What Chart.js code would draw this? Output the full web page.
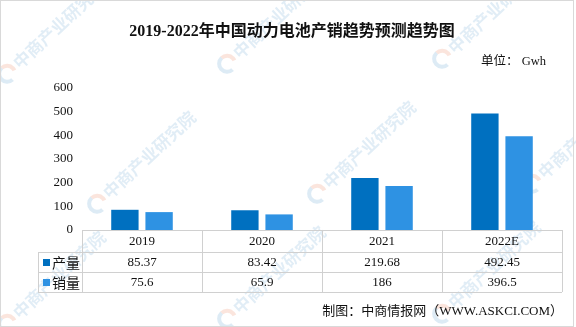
<!DOCTYPE html>
<html><head><meta charset="utf-8">
<script src="https://cdn.jsdelivr.net/npm/chart.js@4/dist/chart.umd.min.js"></script>
<style>html,body{margin:0;padding:0;background:#fff}#wrap{width:576px;height:327px;position:relative}</style>
</head><body><div id="wrap"><canvas id="c" width="576" height="327"></canvas></div>
<script>
const categories = ['2019', '2020', '2021', '2022E'];
const production = [85.37, 83.42, 219.68, 492.45];
const sales = [75.6, 65.9, 186, 396.5];
const productionLabels = ['85.37', '83.42', '219.68', '492.45'];
const salesLabels = ['75.6', '65.9', '186', '396.5'];
const yTicks = [0, 100, 200, 300, 400, 500, 600];
const seriesNames = ['产量', '销量'];
const colors = ['#0070c0', '#2e92e3'];

const FONT = '"Liberation Serif", "Noto Sans CJK SC", serif';

const tablePlugin = {
  id: 'tablePlugin',
  beforeDraw(chart) {
    const ctx = chart.ctx;
    ctx.save();
    ctx.fillStyle = '#fff';
    ctx.fillRect(0, 0, chart.width, chart.height);
    // watermark
    ctx.font = 'bold 17px "Noto Sans CJK SC"';
    const spots = [[20,70],[240,60],[455,55],[110,200],[330,190],[545,180],[20,320],[240,315],[455,310]];
    spots.forEach(([x, y]) => {
      ctx.save();
      ctx.translate(x, y);
      ctx.rotate(-Math.PI / 4.2);
      ctx.fillStyle = 'rgba(120,175,215,0.22)';
      ctx.fillText('中商产业研究院', 0, 0);
      ctx.beginPath();
      ctx.arc(-12, -6, 8, Math.PI * 0.5, Math.PI * 1.5);
      ctx.lineWidth = 4;
      ctx.strokeStyle = 'rgba(120,175,215,0.25)';
      ctx.stroke();
      ctx.beginPath();
      ctx.arc(-12, -6, 8, -Math.PI * 0.5, Math.PI * 0.1);
      ctx.strokeStyle = 'rgba(240,150,120,0.25)';
      ctx.stroke();
      ctx.restore();
    });
    ctx.restore();
  },
  afterDraw(chart) {
    const ctx = chart.ctx;
    const xs = chart.scales.x;
    const area = chart.chartArea;
    const left = area.left, right = area.right;
    const top = area.bottom;
    const r1 = top + 22, r2 = r1 + 20, r3 = r2 + 20;
    const legL = 38;
    const n = categories.length;
    const w = (right - left) / n;
    ctx.save();
    ctx.strokeStyle = '#d0d0d0';
    ctx.lineWidth = 1;
    ctx.beginPath();
    ctx.moveTo(left, top + 0.5); ctx.lineTo(right, top + 0.5);
    [r1, r2, r3].forEach(y => { ctx.moveTo(legL, y + 0.5); ctx.lineTo(right, y + 0.5); });
    for (let i = 0; i <= n; i++) {
      const x = Math.round(left + i * w) + 0.5;
      ctx.moveTo(x, top); ctx.lineTo(x, r3);
    }
    ctx.moveTo(legL + 0.5, r1); ctx.lineTo(legL + 0.5, r3);
    ctx.stroke();

    ctx.fillStyle = '#111';
    ctx.font = '13px ' + FONT;
    ctx.textAlign = 'center';
    ctx.textBaseline = 'middle';
    categories.forEach((c, i) => {
      const x = xs.getPixelForValue(i);
      ctx.fillText(c, x, (top + r1) / 2 + 1);
      ctx.fillText(productionLabels[i], x, (r1 + r2) / 2 + 1);
      ctx.fillText(salesLabels[i], x, (r2 + r3) / 2 + 1);
    });
    // legend cells
    [[r1, r2], [r2, r3]].forEach(([a, b], k) => {
      const cy = (a + b) / 2;
      ctx.fillStyle = colors[k];
      ctx.fillRect(legL + 5, cy - 3, 7, 7);
      ctx.fillStyle = '#111';
      ctx.textAlign = 'left';
      ctx.font = '14px "Noto Sans CJK SC"';
      ctx.fillText(seriesNames[k], legL + 14, cy + 1);
    });

    // title, unit, source
    ctx.textAlign = 'center';
    ctx.font = 'bold 16px ' + FONT;
    ctx.fillText('2019-2022年中国动力电池产销趋势预测趋势图', 292, 32);
    ctx.textAlign = 'left';
    ctx.font = '12.5px ' + FONT;
    ctx.fillText('单位： Gwh', 481, 62);
    ctx.textAlign = 'right';
    ctx.font = '13px ' + FONT;
    ctx.fillText('制图：中商情报网（WWW.ASKCI.COM）', 563, 312);

    // frame
    ctx.strokeStyle = '#d9d9d9';
    ctx.strokeRect(0.5, 0.5, chart.width - 3, chart.height - 1);
    ctx.restore();
  }
};

new Chart(document.getElementById('c'), {
  type: 'bar',
  data: {
    labels: categories,
    datasets: [
      { label: seriesNames[0], data: production, backgroundColor: colors[0], categoryPercentage: 0.57, barPercentage: 0.8 },
      { label: seriesNames[1], data: sales, backgroundColor: colors[1], categoryPercentage: 0.57, barPercentage: 0.8 }
    ]
  },
  options: {
    responsive: false,
    animation: false,
    layout: { padding: { top: 88, bottom: 97, right: 14, left: 0 } },
    plugins: { legend: { display: false }, title: { display: false }, tooltip: { enabled: false } },
    scales: {
      x: { display: false },
      y: {
        min: 0, max: 600,
        afterBuildTicks(s) { s.ticks = yTicks.map(v => ({ value: v })); },
        afterFit(s) { s.width = 82; },
        grid: { display: false, drawTicks: false },
        border: { display: false },
        ticks: { color: '#111', padding: 9, font: { family: FONT, size: 13 } }
      }
    }
  },
  plugins: [tablePlugin]
});
</script></body></html>
